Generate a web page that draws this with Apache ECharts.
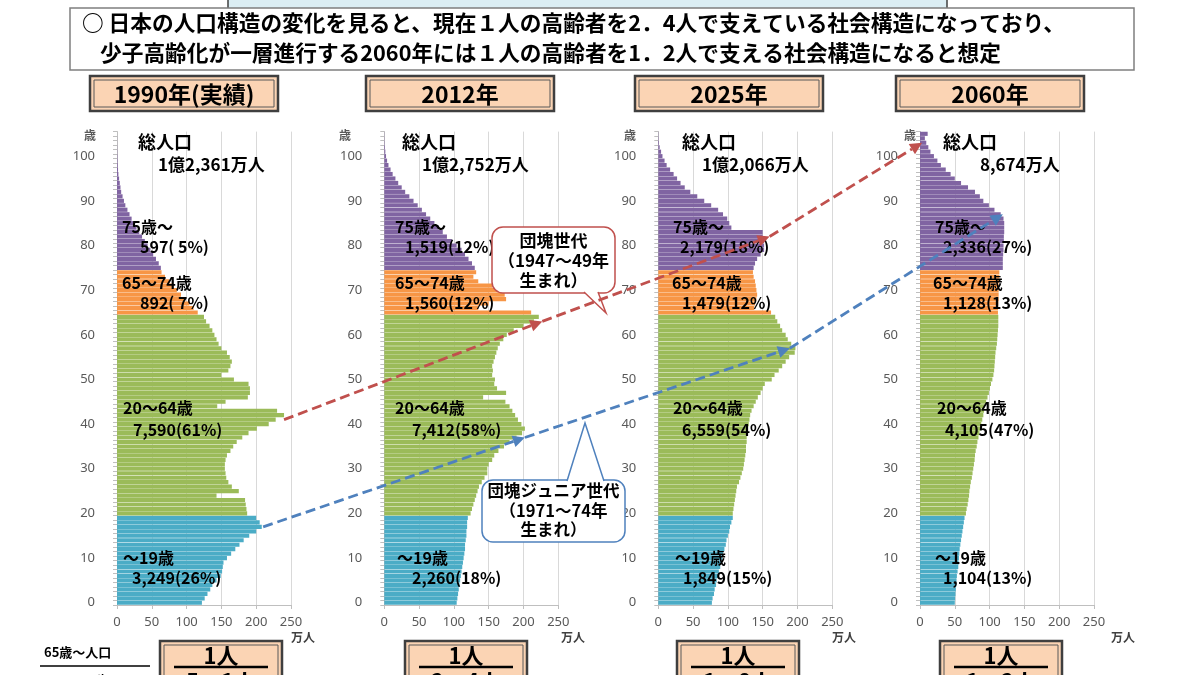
<!DOCTYPE html>
<html><head><meta charset="utf-8">
<script src="https://cdn.jsdelivr.net/npm/echarts@6/dist/echarts.min.js"></script>
<style>html,body{margin:0;padding:0;background:#fff}#c{width:1200px;height:675px}</style>
</head><body><div id="c"></div>
<script>
// ---------------- DATA (万人, by single year of age) ----------------
const ageCats = Array.from({length: 106}, (_, i) => String(i)); // 0..105
const yTickEvery = 10;
const xTicks = [0, 50, 100, 150, 200, 250];

// 1990
const y1990_0_19  = [122,126,130,134,137,143,149,151,152,153,158,164,170,176,182,190,200,208,205,200];
const y1990_20_64 = [187,186,185,184,143,175,165,160,157,156,155,155,156,158,163,167,172,180,189,201,218,228,240,230,144,156,188,191,191,189,168,150,160,163,165,162,158,150,146,143,140,137,133,128,125];
const y1990_65_74 = [116,110,104,98,92,86,81,75,69,64];
const y1990_75    = [63,60,56,52,48,44,40,36,32,28,24,21,18,15,12,10,8,6,5,4,3,2,1.5,1,0.7,0.5,0.3,0.2,0.1,0.1,0];
// 2012
const y2012_0_19  = [104,105,106,107,108,109,110,111,112,113,114,115,116,116,117,118,118,119,119,120];
const y2012_20_64 = [124,126,128,130,132,134,136,140,144,148,148,150,155,158,164,172,180,190,198,202,197,192,188,184,180,174,142,175,162,158,159,155,156,155,157,159,161,163,166,171,176,186,200,215,222];
const y2012_65_74 = [211,135,150,175,173,166,155,135,128,132];
const y2012_75    = [130,126,121,116,111,104,97,90,84,78,72,66,60,54,48,42,36,30,25,20,16,12,9,6,4,2.5,1.5,1,0.5,0.3,0.2];
// 2025
const y2025_0_19  = [77,78,80,81,83,84,86,87,89,90,92,93,95,97,98,100,102,103,105,107];
const y2025_20_64 = [107,108,109,110,111,112,113,116,118,120,122,123,124,125,126,126,127,127,128,129,130,131,132,134,137,140,143,147,150,153,163,167,173,178,183,188,196,197,191,186,183,178,175,171,168];
const y2025_65_74 = [162,138,139,141,142,141,140,139,137,136];
const y2025_75    = [137,139,142,147,152,152,152,150,150,105,102,99,93,86,76,66,56,46,38,32,27,22,17,12,9,6,4,2,1,0.5,0.3];
// 2060
const y2060_0_19  = [50,50.5,51,51.5,52,52.5,53,54,55,55.5,56,56.5,57,58,59,60,61,62,63,64];
const y2060_20_64 = [66,67,68.5,69.5,70.5,71,72,73,74.5,75.5,76.5,77.5,78.5,79,80,81.5,82.5,84,85.5,87,88,89.5,91,92,93,95,97,99,100.5,102,104,105.5,106.5,107,107.5,108,108.5,109.5,110.5,111,111.5,112,112.5,112.5,112.5];
const y2060_65_74 = [112,112,112.5,113,113,113,113,113.5,114,114];
const y2060_75    = [119,119,119,119.5,120,120,120.5,120.5,121,121,121,120,116,107,99,91,86,79,69,59,50,44,37,30,25,20,15,12,9,7,11];

// labels
const headLine1 = '○ 日本の人口構造の変化を見ると、現在１人の高齢者を2．4人で支えている社会構造になっており、';
const headLine2 = '少子高齢化が一層進行する2060年には１人の高齢者を1．2人で支える社会構造になると想定';
const yearTitles = ['1990年(実績)', '2012年', '2025年', '2060年'];
const totalLabels = ['1億2,361万人', '1億2,752万人', '1億2,066万人', '8,674万人'];
const groupNames = ['75歳～', '65～74歳', '20～64歳', '～19歳'];
const label75 = ['597( 5%)', '1,519(12%)', '2,179(18%)', '2,336(27%)'];
const label65 = ['892( 7%)', '1,560(12%)', '1,479(12%)', '1,128(13%)'];
const label20 = ['7,590(61%)', '7,412(58%)', '6,559(54%)', '4,105(47%)'];
const label19 = ['3,249(26%)', '2,260(18%)', '1,849(15%)', '1,104(13%)'];
const ratioLabels = ['5．1人', '2．4人', '1．8人', '1．2人'];
// arrows: [chartIndex, value(万人), age]
const boomerArrow = [[0, 240, 41], [1, 227, 63], [2, 160, 82], [3, 3, 103]];
const juniorArrow = [[0, 210, 17], [1, 202, 37], [2, 189, 57], [3, 119, 87]];

// ---------------- LAYOUT ----------------
const FONT = "'Noto Sans CJK JP', 'Noto Sans CJK SC', sans-serif";
const gridLeft = [117, 384.3, 658.3, 920];
const gridW = 174, gridTop = 131.6, gridH = 473.4;
const colors = {young: '#4bacc6', work: '#9bbb59', old1: '#f79646', old2: '#8064a2'};
const peach = '#fbd4b4';
const datasets = [
  [y1990_0_19, y1990_20_64, y1990_65_74, y1990_75],
  [y2012_0_19, y2012_20_64, y2012_65_74, y2012_75],
  [y2025_0_19, y2025_20_64, y2025_65_74, y2025_75],
  [y2060_0_19, y2060_20_64, y2060_65_74, y2060_75]
];
const groupStart = [0, 20, 65, 75];
const groupColor = [colors.young, colors.work, colors.old1, colors.old2];

const grid = [], xAxis = [], yAxis = [], series = [];
datasets.forEach((groups, ci) => {
  grid.push({left: gridLeft[ci], top: gridTop, width: gridW, height: gridH, containLabel: false});
  xAxis.push({
    gridIndex: ci, type: 'value', min: xTicks[0], max: xTicks[xTicks.length - 1], interval: 50,
    axisLine: {show: true, lineStyle: {color: '#bfbfbf'}},
    axisTick: {show: true, length: 4, lineStyle: {color: '#bfbfbf'}},
    splitLine: {show: true, lineStyle: {color: '#d9d9d9', width: 1}},
    axisLabel: {color: '#595959', fontSize: 13, margin: 11, fontFamily: 'Noto Sans'}
  });
  yAxis.push({
    gridIndex: ci, type: 'category', data: ageCats,
    axisLine: {show: true, lineStyle: {color: '#bfbfbf'}},
    axisTick: {show: true, interval: 0, length: 4, inside: false, lineStyle: {color: '#bfbfbf'}},
    axisLabel: {interval: yTickEvery - 1, color: '#595959', fontSize: 13, margin: 22, fontFamily: 'Noto Sans'},
    splitLine: {show: false}
  });
  groups.forEach((arr, gi) => {
    const d = ageCats.map(() => '-');
    arr.forEach((v, k) => { d[groupStart[gi] + k] = v; });
    series.push({
      type: 'bar', xAxisIndex: ci, yAxisIndex: ci, stack: 's' + ci,
      barCategoryGap: '7%', data: d, silent: true,
      itemStyle: {color: groupColor[gi]}
    });
  });
});

const chart = echarts.init(document.getElementById('c'), null, {renderer: 'canvas'});
chart.setOption({animation: false, backgroundColor: '#fff', grid, xAxis, yAxis, series});

// ---------------- GRAPHICS ----------------
const G = [];
function T(x, y, text, o) {
  o = o || {};
  G.push({type: 'text', x: x, y: y, z: 100,
    style: {text: text, fill: o.color || '#000',
      font: (o.weight || 'bold') + ' ' + (o.size || 17) + 'px ' + FONT,
      align: o.align || 'left', verticalAlign: 'middle',
      textAlign: o.align || 'left', textVerticalAlign: 'middle'}});
}
function R(x, y, w, h, st, r) {
  G.push({type: 'rect', z: 90, shape: {x: x, y: y, width: w, height: h, r: r || 0}, style: st});
}
function Ln(x1, y1, x2, y2, st, z) {
  G.push({type: 'line', z: z || 95, shape: {x1: x1, y1: y1, x2: x2, y2: y2}, style: st});
}

// top cut-off light-blue box
R(228, -10, 719, 21, {fill: '#dbeef4', stroke: '#404040', lineWidth: 1.5});
// headline box
R(70, 8, 1064, 62, {fill: '#fff', stroke: '#7f7f7f', lineWidth: 1.5});
T(82, 23, headLine1, {size: 21.7, weight: 'bold'});
T(100, 53, headLine2, {size: 21.7, weight: 'bold'});

// double-bordered peach box
function peachBox(x, y, w, h) {
  R(x, y, w, h, {fill: peach, stroke: '#3f3f3f', lineWidth: 2.5});
  R(x + 4, y + 4, w - 8, h - 8, {fill: 'none', stroke: '#595959', lineWidth: 1});
}
const yearBoxX = [90, 366, 635, 896];
yearTitles.forEach((t, i) => {
  peachBox(yearBoxX[i], 76, 188, 35);
  T(yearBoxX[i] + 94, 94, t, {size: 23, align: 'center'});
});

// per-chart text
const lx = {
  tot: [138, 402, 682, 943], totV: [158, 422, 702, 980],
  g75: [122, 395, 673, 935], v75: [140, 405, 680, 943],
  g65: [122, 395, 672, 933], v65: [140, 405, 682, 943],
  g20: [123, 395, 673, 937], v20: [133, 412, 682, 945],
  g19: [123, 397, 675, 935], v19: [132, 412, 683, 943],
  ageUnit: [90, 345, 630, 910], manX: [291, 561, 832, 1111]
};
for (let i = 0; i < 4; i++) {
  T(lx.tot[i], 142, '総人口', {size: 18});
  T(lx.totV[i], 165, totalLabels[i], {size: 17});
  T(lx.g75[i], 227, groupNames[0], {size: 16});
  T(lx.v75[i], 247, label75[i], {size: 16});
  T(lx.g65[i], 283, groupNames[1], {size: 16});
  T(lx.v65[i], 303, label65[i], {size: 16});
  T(lx.g20[i], 408, groupNames[2], {size: 16});
  T(lx.v20[i], 430, label20[i], {size: 16});
  T(lx.g19[i], 558, groupNames[3], {size: 16});
  T(lx.v19[i], 578, label19[i], {size: 16});
  T(lx.ageUnit[i], 135, '歳', {size: 12, color: '#595959', align: 'center'});
  T(lx.manX[i], 637, '万人', {size: 12, color: '#404040'});
}

// bottom ratio boxes
const ratioBoxX = [160, 405, 677, 940];
ratioBoxX.forEach((x, i) => {
  peachBox(x, 641, 122, 60);
  T(x + 61, 656, '1人', {size: 22, align: 'center'});
  Ln(x + 14, 667, x + 108, 667, {stroke: '#000', lineWidth: 2.5}, 96);
  T(x + 61, 682, ratioLabels[i], {size: 22, align: 'center'});
});
T(44, 652, '65歳～人口', {size: 13});
Ln(40, 666, 150, 666, {stroke: '#000', lineWidth: 1.5}, 96);
T(52, 680, '20～64歳人口', {size: 13});

// callouts
function callout(x, y, w, h, color, tail, lines, ys, fs) {
  G.push({type: 'rect', z: 110, shape: {x: x, y: y, width: w, height: h, r: 11},
    style: {fill: '#fff', stroke: color, lineWidth: 1.5}});
  G.push({type: 'polygon', z: 111, shape: {points: tail}, style: {fill: '#fff'}});
  G.push({type: 'polyline', z: 112, shape: {points: tail}, style: {fill: null, stroke: color, lineWidth: 1.5}});
  lines.forEach((s, k) => G.push({type: 'text', x: x + w / 2, y: ys[k], z: 113,
    style: {text: s, fill: '#000', font: 'bold ' + fs + 'px ' + FONT, align: 'center', verticalAlign: 'middle',
      textAlign: 'center', textVerticalAlign: 'middle'}}));
}
callout(492, 227, 123, 66, '#c0504d', [[584, 292], [606, 313], [598, 292]],
  ['団塊世代', '（1947～49年', '生まれ）'], [241, 261, 281], 17);
callout(482, 480, 143, 62, '#4f81bd', [[567, 481], [585, 423], [604, 481]],
  ['団塊ジュニア世代', '（1971～74年', '生まれ）'], [491, 511, 530], 16.5);

// dashed arrows computed from data positions
function arrowPath(pts, color) {
  const P = pts.map(p => chart.convertToPixel({gridIndex: p[0]}, [p[1], String(p[2])]));
  for (let k = 0; k < P.length - 1; k++) {
    const a = P[k], b = P[k + 1];
    const dx = b[0] - a[0], dy = b[1] - a[1], len = Math.hypot(dx, dy);
    const ux = dx / len, uy = dy / len, hl = 12, hw = 6;
    const bx = b[0] - ux * hl, by = b[1] - uy * hl;
    Ln(a[0], a[1], bx, by, {stroke: color, lineWidth: 2.8, lineDash: [10, 5]}, 120);
    G.push({type: 'polygon', z: 121, shape: {points: [[b[0], b[1]],
      [bx - uy * hw, by + ux * hw], [bx + uy * hw, by - ux * hw]]}, style: {fill: color}});
  }
}
arrowPath(boomerArrow, '#c0504d');
arrowPath(juniorArrow, '#4f81bd');

chart.setOption({graphic: {elements: G}});
</script></body></html>
